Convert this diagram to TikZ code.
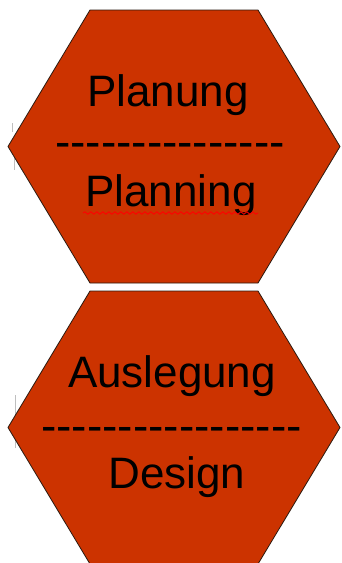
\documentclass[tikz,border=0pt]{standalone}
\usepackage{fontspec}
\setmainfont{Liberation Sans}[Ligatures=TeXOff]
\usetikzlibrary{decorations.pathmorphing}
\definecolor{hexfill}{HTML}{CC3300}
\definecolor{hexline}{HTML}{2A1A10}
\tikzset{
  hexshape/.style={fill=hexfill,draw=hexline,line width=0.8pt,line join=miter},
  word/.style={anchor=base,inner sep=0pt,font=\fontsize{44}{50}\selectfont,text=black},
  dashline/.style={anchor=base,inner sep=0pt,font=\fontsize{46}{50}\selectfont,text=black},
  spell/.style={draw=red,line width=0.9pt,decorate,decoration={snake,segment length=6pt,amplitude=1.2pt}},
  faintmark/.style={draw=black!25,line width=0.8pt}
}
\begin{document}
\begin{tikzpicture}[x=1pt,y=-1pt]
\useasboundingbox (0,0) rectangle (342,563);
% faint marks at the left
\draw[faintmark] (12,123) -- (12,132) (14,150) -- (14,170);
\draw[faintmark] (15,395) -- (15,448);
% top hexagon
\path[hexshape] (90,10) -- (258,10) -- (340,146.5) -- (258,283) -- (90,283) -- (8,146.5) -- cycle;
% bottom hexagon
\path[hexshape] (90,291) -- (258,291) -- (340,427.5) -- (258,564) -- (90,564) -- (8,427.5) -- cycle;
% texts
\node[word] (planung) at (168,106) {Planung};
\node[dashline] (dash1) at (170,157.5) {---------------};
\node[word] (planning) at (171,206) {Planning};
\node[word] (ausl) at (172,387) {Auslegung};
\node[dashline] (dash2) at (171.5,441.5) {-----------------};
\node[word] (design) at (177,488) {Design};
% spell-check underline
\coordinate (ul1) at (83,213);
\coordinate (ul2) at (258,213);
\draw[spell] (ul1) -- (ul2);
\end{tikzpicture}
\end{document}
